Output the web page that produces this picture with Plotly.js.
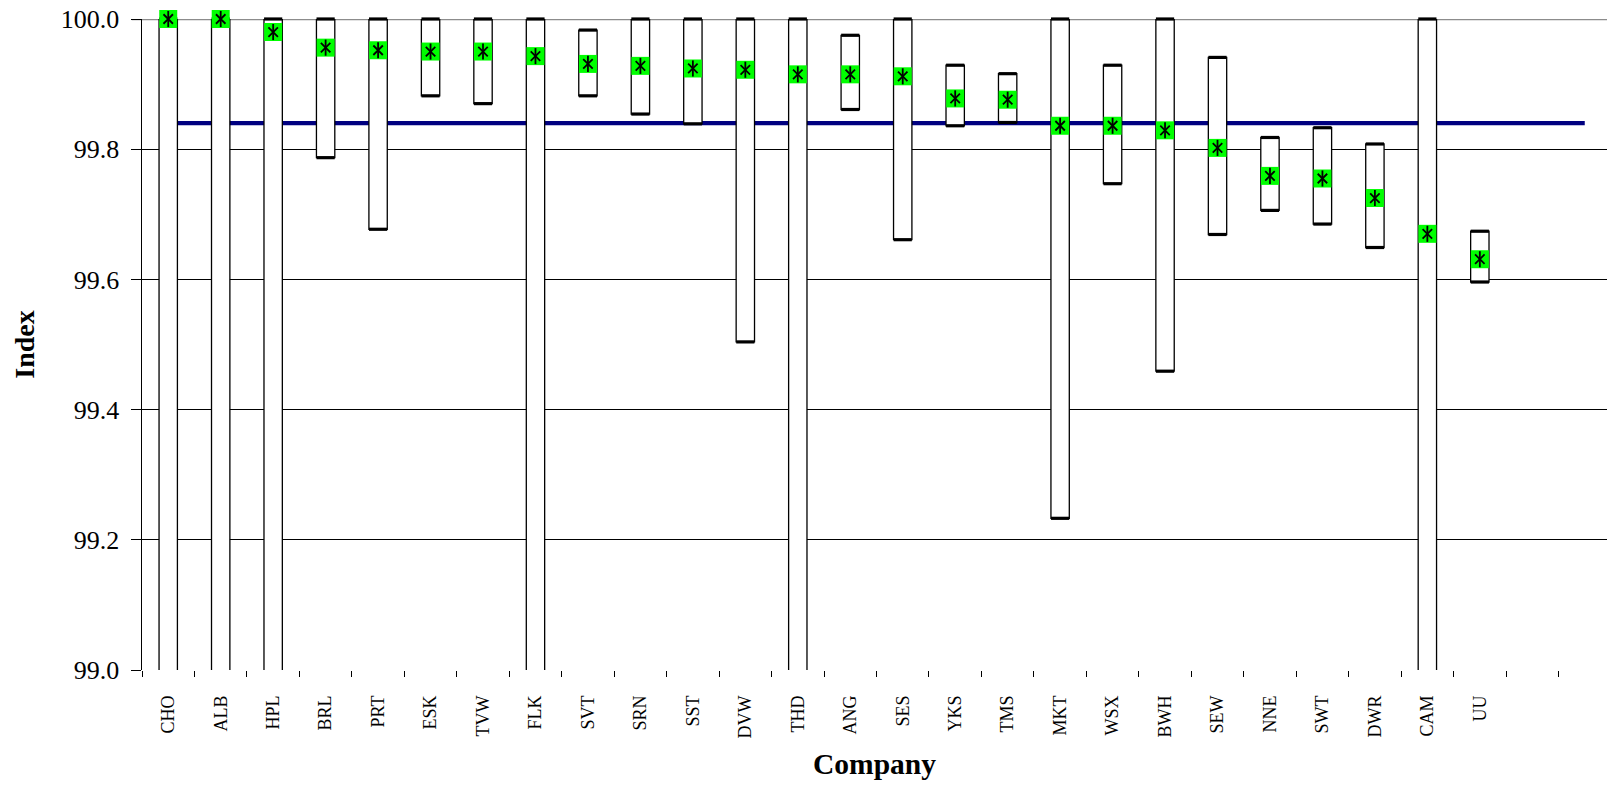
<!DOCTYPE html>
<html><head><meta charset="utf-8">
<script src="https://cdn.plot.ly/plotly-3.0.1.min.js"></script>
<style>html,body{margin:0;padding:0;background:#fff;overflow:hidden}#chart{width:1607px;height:788px}</style>
</head><body><div id="chart"></div>
<script>
// ---- data ----
const companies = ['CHO','ALB','HPL','BRL','PRT','ESK','TVW','FLK','SVT','SRN','SST','DVW','THD','ANG','SES','YKS','TMS','MKT','WSX','BWH','SEW','NNE','SWT','DWR','CAM','UU'];
const extraSlots = [' ', '  '];
const highValues  = [100.0,100.0,100.0,100.0,100.0,100.0,100.0,100.0,99.983,100.0,100.0,100.0,100.0,99.975,100.0,99.929,99.916,100.0,99.929,100.0,99.941,99.818,99.833,99.808,100.0,99.674];
const lowValues   = [98.98,98.98,98.98,99.787,99.677,99.882,99.870,98.98,99.882,99.854,99.839,99.504,98.98,99.861,99.661,99.836,99.841,99.233,99.747,99.459,99.669,99.706,99.685,99.649,98.98,99.596];
const indexValues = [100.0,100.0,99.980,99.956,99.952,99.950,99.950,99.943,99.931,99.928,99.924,99.922,99.915,99.915,99.912,99.878,99.876,99.836,99.836,99.829,99.802,99.759,99.755,99.725,99.670,99.631];
const industryAverage = 99.840;
const yTicks = [99.0, 99.2, 99.4, 99.6, 99.8, 100.0];
const yMin = 99.0, yMax = 100.0;

// ---- traces ----
const serif = 'Liberation Serif, Times New Roman, serif';
const allSlots = companies.concat(extraSlots);

const boxes = {
  type: 'bar', x: companies,
  base: lowValues,
  y: highValues.map((h, i) => h - lowValues[i]),
  width: 0.35,
  marker: {color: '#ffffff', line: {color: '#000000', width: 1.3}},
  hoverinfo: 'skip', showlegend: false
};
const capX = companies.concat(companies);
const capY = highValues.concat(lowValues.map(v => v >= yMin ? v : null));
const caps = {
  type: 'scatter', mode: 'markers', x: capX, y: capY, cliponaxis: false,
  marker: {symbol: 'line-ew', size: 13, color: '#000', line: {color: '#000', width: 3.2}},
  hoverinfo: 'skip', showlegend: false
};
const squares = {
  type: 'scatter', mode: 'markers', x: companies, y: indexValues, cliponaxis: false,
  marker: {symbol: 'square', size: 18, color: '#00ff00', line: {width: 0}},
  hoverinfo: 'skip', showlegend: false
};
const starX = {
  type: 'scatter', mode: 'markers', x: companies, y: indexValues, cliponaxis: false,
  marker: {symbol: 'x-thin', size: 9.5, color: '#000', line: {color: '#000', width: 1.8}},
  hoverinfo: 'skip', showlegend: false
};
const starV = {
  type: 'scatter', mode: 'markers', x: companies, y: indexValues, cliponaxis: false,
  marker: {symbol: 'line-ns', size: 11.5, color: '#000', line: {color: '#000', width: 1.8}},
  hoverinfo: 'skip', showlegend: false
};

const layout = {
  width: 1607, height: 788,
  margin: {l: 142, r: 0, t: 19, b: 118, autoexpand: false},
  paper_bgcolor: '#ffffff', plot_bgcolor: '#ffffff',
  showlegend: false,
  bargap: 0,
  xaxis: {
    type: 'category', categoryorder: 'array', categoryarray: allSlots,
    range: [-0.5, 27.424],
    tickson: 'boundaries', ticks: 'outside', ticklen: 6, tickwidth: 1, tickcolor: '#000',
    tickangle: -90, ticklabelstandoff: 21,
    tickfont: {family: serif, size: 18, color: '#000'},
    showline: false, showgrid: false, zeroline: false,
    layer: 'below traces', automargin: false,
    title: {text: '<b>Company</b>', font: {family: serif, size: 29.5, color: '#000'}, standoff: 15}
  },
  yaxis: {
    range: [yMin, yMax],
    tickvals: yTicks, ticktext: yTicks.map(v => v.toFixed(1)),
    ticks: 'outside', ticklen: 10, tickwidth: 1, tickcolor: '#000',
    ticklabelstandoff: 6,
    tickfont: {family: serif, size: 26, color: '#000'},
    showline: true, linecolor: '#000', linewidth: 1.5,
    showgrid: true, gridcolor: '#000', gridwidth: 1,
    zeroline: false, layer: 'below traces', automargin: false,
    title: {text: '<b>Index</b>', font: {family: serif, size: 28, color: '#000'}, standoff: 18}
  },
  shapes: [
    {type: 'line', layer: 'between', xref: 'paper', yref: 'y', x0: -0.007, x1: 1, y0: yMax, y1: yMax,
     line: {color: '#8c8c8c', width: 2.5}},
    {type: 'line', layer: 'between', xref: 'x', yref: 'y', x0: 0, x1: allSlots.length - 1, y0: industryAverage, y1: industryAverage,
     line: {color: '#000080', width: 4.2}}
  ]
};

Plotly.newPlot('chart', [boxes, caps, squares, starX, starV], layout, {staticPlot: true, displayModeBar: false});
</script>
</body></html>
